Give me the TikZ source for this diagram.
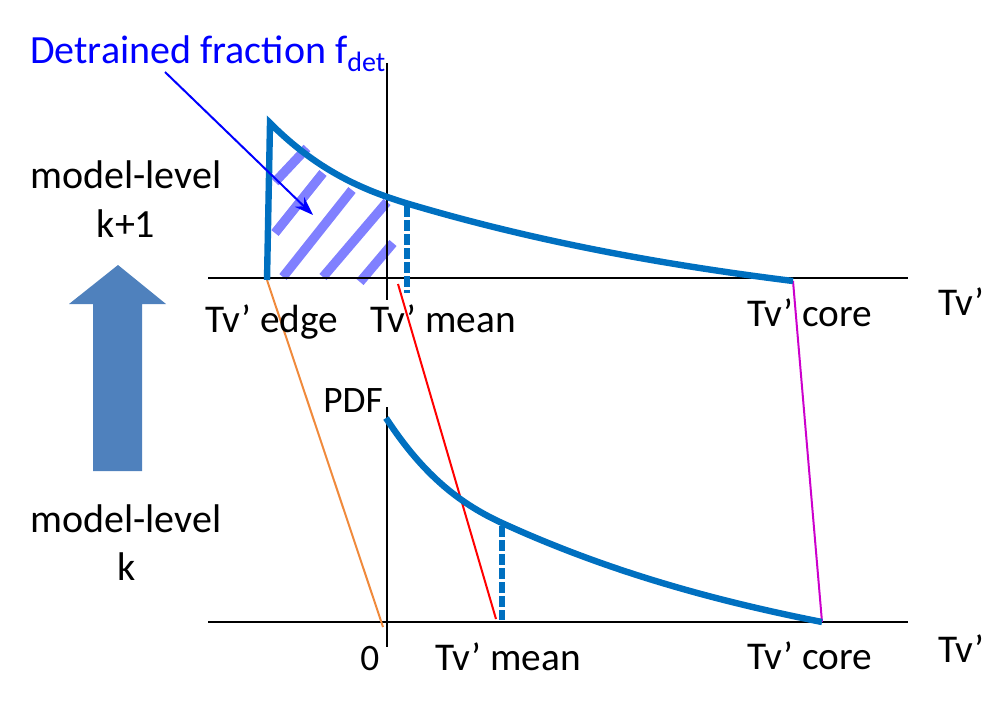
\documentclass[tikz,border=0pt]{standalone}
\usepackage{fontspec}
\setmainfont{Carlito}
\usetikzlibrary{arrows.meta}
\definecolor{curveblue}{HTML}{0070C0}
\definecolor{hatchblue}{HTML}{8080FF}
\definecolor{bigarrow}{HTML}{4F81BD}
\definecolor{orangeline}{HTML}{F08A3C}
\definecolor{magline}{HTML}{CC00CC}
\definecolor{labelblue}{HTML}{0000FF}
\tikzset{
  axis/.style={black, line width=2.2pt},
  pdfcurve/.style={curveblue, line width=4.8pt, line join=miter},
  meanline/.style={curveblue, line width=4.5pt, dash pattern=on 8pt off 2.5pt},
  hatch/.style={hatchblue, line width=7pt},
  link/.style={line width=1.5pt},
  lbl/.style={inner sep=0pt, anchor=base west, font=\fontsize{29.5}{33}\selectfont},
  lblb/.style={inner sep=0pt, anchor=base west, font=\fontsize{30}{34}\selectfont},
  lbls/.style={inner sep=0pt, anchor=base west, font=\fontsize{28}{32}\selectfont},
}
\begin{document}
\begin{tikzpicture}[x=0.75pt, y=-0.75pt]
\useasboundingbox (0,0) rectangle (985,700);
% big arrow
\fill[bigarrow] (118,265) -- (166,304) -- (142,304) -- (142,471) -- (93,471) -- (93,304) -- (69,304) -- cycle;
% hatching
\draw[hatch] (307,148) -- (275,182);
\draw[hatch] (323,173) -- (275,233);
\draw[hatch] (352,190) -- (283,277);
\draw[hatch] (387,202) -- (323,277);
\draw[hatch] (393,243) -- (360,282);
% axes
\draw[axis] (208,278) -- (908,278);
\draw[axis] (387,63) -- (387,300);
\draw[axis] (208,622) -- (908,622);
\draw[axis] (387,407) -- (387,647);
% coordinates
\coordinate (edgeT) at (267,280);
\coordinate (meanT) at (398,284);
\coordinate (coreT) at (793,281);
\coordinate (zeroB) at (383,627);
\coordinate (meanB) at (496,619);
\coordinate (coreB) at (822,622);
% connectors
\draw[link, orangeline] (edgeT) -- (zeroB);
\draw[link, red] (meanT) -- (meanB);
\draw[link, magline] (coreT) -- (coreB);
% curves
\draw[pdfcurve] (edgeT) -- (270,123) .. controls (317,170) and (362,190) .. (409,204)
  .. controls (537,242) and (665,265) .. (coreT);
\draw[pdfcurve] (386,418) .. controls (425,478) and (463,505) .. (502,523)
  .. controls (609,572) and (716,601) .. (coreB);
\draw[meanline] (407,206) -- (407,293);
\draw[meanline] (502,526) -- (502,620);
% labels
\node[lblb, text=labelblue] (det) at (30,63) {Detrained fraction f\textsubscript{det}};
\coordinate (detarr) at (313,215);
\draw[labelblue, line width=1.5pt, -{Stealth[length=14pt, width=10pt]}] (165,72) -- (detarr);
\node[lblb] (mlt) at (30,188) {model-level};
\node[lblb, anchor=base] (kp1) at (126,237) {k+1};
\node[lblb] (mlb) at (30,532) {model-level};
\node[lblb, anchor=base] (kk) at (127,580) {k};
\node[lbl] (tedge) at (205,332) {Tv’ edge};
\node[lbl] (tmeanT) at (370,332) {Tv’ mean};
\node[lbl] (tcoreT) at (747,326) {Tv’ core};
\node[lbl] (tvT) at (938,315) {Tv’};
\node[lbls] (pdf) at (323,412) {PDF};
\node[lbls] (zero) at (360,670) {0};
\node[lbl] (tmeanB) at (435,670) {Tv’ mean};
\node[lbl] (tcoreB) at (747,669) {Tv’ core};
\node[lbl] (tvB) at (938,662) {Tv’};
\end{tikzpicture}
\end{document}
